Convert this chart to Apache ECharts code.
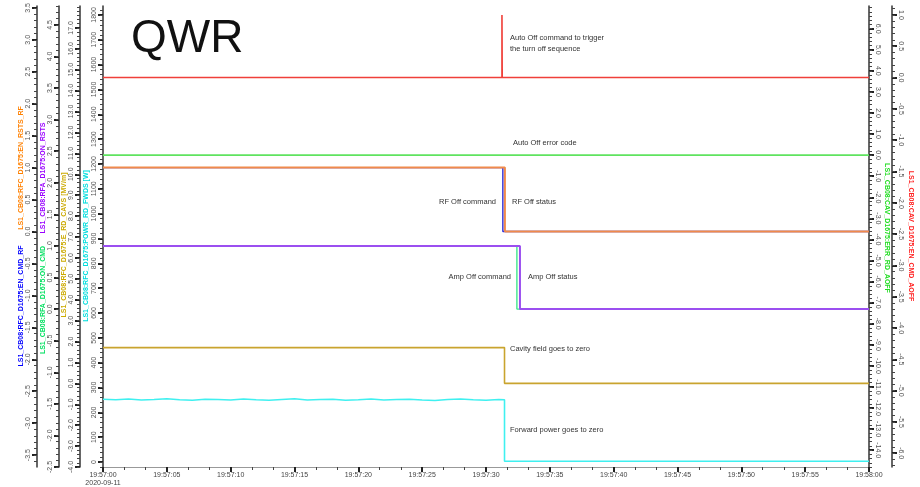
<!DOCTYPE html>
<html style="height: 100%">
<head>
<meta charset="utf-8">
<script type="text/javascript" src="https://cdn.jsdelivr.net/npm/echarts@6/dist/echarts.min.js"></script>
</head>
<body style="height: 100%; margin: 0; background: #fff">
<div id="container" style="width: 920px; height: 487px"></div>
<script type="text/javascript">
// x values are seconds after 19:57:00 on 2020-09-11
var startDate = '2020-09-11';
var startClock = [19, 57, 0];

// [seconds, value]
var autoOffCmd   = [[0, 0], [31.25, 0], [31.25, 1], [31.27, 0], [60, 0]];
var autoOffErr   = [[0, 0], [60, 0]];
var rfOffCmd     = [[0, 1], [31.32, 1], [31.32, 0], [60, 0]];
var rfOffStatus  = [[0, 1], [31.48, 1], [31.48, 0], [60, 0]];
var ampOffCmd    = [[0, 1], [32.42, 1], [32.42, 0], [60, 0]];
var ampOffStatus = [[0, 1], [32.66, 1], [32.66, 0], [60, 0]];
var cavField     = [[0, 1.71], [31.45, 1.71], [31.45, 0], [60, 0]];

// forward power, one reading per second until the drop
var fwdPowerTime = [0, 1, 2, 3, 4, 5, 6, 7, 8, 9, 10, 11, 12, 13, 14, 15,
                    16, 17, 18, 19, 20, 21, 22, 23, 24, 25, 26, 27, 28, 29, 30, 31, 31.45, 31.45, 60];
var fwdPowerVal  = [253, 251, 254, 250, 252, 255, 251, 249, 253, 252, 250, 254, 251, 249, 252, 255,
                    250, 252, 253, 249, 251, 254, 250, 252, 253, 250, 248, 252, 254, 251, 249, 252, 251, 3, 3];

// tick labels of the value axes
var ticksA = [-3.5, -3, -2.5, -2, -1.5, -1, -0.5, 0, 0.5, 1, 1.5, 2, 2.5, 3, 3.5];
var ticksB = [-2.5, -2, -1.5, -1, -0.5, 0, 0.5, 1, 1.5, 2, 2.5, 3, 3.5, 4, 4.5];
var ticksC = [-4, -3, -2, -1, 0, 1, 2, 3, 4, 5, 6, 7, 8, 9, 10, 11, 12, 13, 14, 15, 16, 17];
var ticksD = [0, 100, 200, 300, 400, 500, 600, 700, 800, 900, 1000, 1100, 1200, 1300, 1400, 1500, 1600, 1700, 1800];
var ticksE = [-14, -13, -12, -11, -10, -9, -8, -7, -6, -5, -4, -3, -2, -1, 0, 1, 2, 3, 4, 5, 6];
var ticksF = [-6, -5.5, -5, -4.5, -4, -3.5, -3, -2.5, -2, -1.5, -1, -0.5, 0, 0.5, 1];

var dom = document.getElementById('container');
var myChart = echarts.init(dom);

function range(lo, hi, step) {
    var out = [];
    var first = Math.ceil(lo / step - 1e-9);
    var last = Math.floor(hi / step + 1e-9);
    for (var i = first; i <= last; i++) out.push(+(i * step).toFixed(6));
    return out;
}

function pad(n) { return (n < 10 ? '0' : '') + n; }
function clock(sec) {
    var t = startClock[0] * 3600 + startClock[1] * 60 + startClock[2] + Math.round(sec);
    return pad(Math.floor(t / 3600)) + ':' + pad(Math.floor(t / 60) % 60) + ':' + pad(t % 60);
}

var axisColor = '#333';
var labelFont = 'Liberation Sans';

function makeAxes(pos, offset, min, max, ticks, minorStep, digits) {
    var major = {
        type: 'value', position: pos, offset: offset, min: min, max: max,
        splitLine: {show: false},
        axisLine: {show: true, onZero: false, lineStyle: {color: axisColor, width: 1.5}},
        axisTick: {show: true, customValues: ticks, length: 5, lineStyle: {color: '#222', width: 2}},
        axisLabel: {
            show: true, customValues: ticks, rotate: pos === 'left' ? 90 : -90, margin: 5,
            fontSize: 7, color: '#555', fontFamily: labelFont,
            formatter: function (v) { return Number(v).toFixed(digits); }
        }
    };
    var minor = {
        type: 'value', position: pos, offset: offset, min: min, max: max,
        splitLine: {show: false},
        axisLine: {show: false, onZero: false},
        axisTick: {show: true, customValues: range(min, max, minorStep), length: 3, lineStyle: {color: '#444', width: 1}},
        axisLabel: {show: false}
    };
    return [major, minor];
}

var yAxes = [].concat(
    makeAxes('left', 66, -3.686, 3.53, ticksA, 0.1, 1),      // 0,1  RF command / status
    makeAxes('left', 44, -2.5, 4.8, ticksB, 0.1, 1),         // 2,3  amp command / status
    makeAxes('left', 23, -4.0, 18.05, ticksC, 0.2, 1),       // 4,5  cavity field
    makeAxes('left', 0, -20, 1836, ticksD, 20, 0),           // 6,7  forward power
    makeAxes('right', 0, -14.8, 7.08, ticksE, 0.2, 1),       // 8,9  auto off error
    makeAxes('right', 23, -6.22, 1.143, ticksF, 0.1, 1)      // 10,11 auto off command
);

function line(name, data, axis, color, width) {
    return {
        name: name, type: 'line', data: data, yAxisIndex: axis,
        symbol: 'none', showSymbol: false, animation: false,
        lineStyle: {color: color, width: width || 1.6}
    };
}

var fwdPower = fwdPowerTime.map(function (t, i) { return [t, fwdPowerVal[i]]; });

function axisName(text, x, y, color, left) {
    return {
        type: 'text', x: x, y: y, rotation: left ? Math.PI / 2 : -Math.PI / 2,
        style: {text: text, fill: color, font: 'bold 7px "Liberation Sans"', textAlign: 'center', textVerticalAlign: 'middle'}
    };
}
function note(text, x, y, align) {
    return {
        type: 'text', x: x, y: y,
        style: {text: text, fill: '#333', font: '7.5px "Liberation Sans"', textAlign: align || 'left', textVerticalAlign: 'middle'}
    };
}

option = {
    backgroundColor: '#fff',
    animation: false,
    grid: {left: 103, right: 51, top: 3, bottom: 20, containLabel: false},
    xAxis: {
        type: 'value', min: 0, max: 60, interval: 5,
        splitLine: {show: false},
        axisLine: {onZero: false, lineStyle: {color: '#999', width: 1}},
        axisTick: {length: 5, lineStyle: {color: '#222', width: 2}},
        minorTick: {show: true, splitNumber: 3, length: 3, lineStyle: {color: '#444', width: 1}},
        axisLabel: {
            fontSize: 7, color: '#444', fontFamily: labelFont, margin: 4, lineHeight: 8,
            formatter: function (v) { return v === 0 ? clock(v) + '\n' + startDate : clock(v); }
        }
    },
    yAxis: yAxes,
    series: [
        line('LS1_CB08:RFC_D1675:POWR_RD_FWDS [W]', fwdPower, 6, '#3ff0f0'),
        line('LS1_CB08:RFC_D1675:E_RD_CAVS [MV/m]', cavField, 4, '#c9a42e'),
        line('LS1_CB08:RFA_D1675:ON_CMD', ampOffCmd, 2, '#3de68c', 1.4),
        line('LS1_CB08:RFA_D1675:ON_RSTS', ampOffStatus, 2, '#9b4ff0', 2),
        line('LS1_CB08:RFC_D1675:EN_CMD_RF', rfOffCmd, 0, '#2b2bd9', 1.4),
        line('LS1_CB08:RFC_D1675:EN_RSTS_RF', rfOffStatus, 0, '#f08a4b', 2),
        line('LS1_CB08:CAV_D1675:ERR_RD_AOFF', autoOffErr, 8, '#5fe35f'),
        line('LS1_CB08:CAV_D1675:EN_CMD_AOFF', autoOffCmd, 10, '#f0403a')
    ],
    graphic: [
        {type: 'text', x: 131, y: 39, style: {text: 'QWR', fill: '#111', font: '46px "Liberation Sans"', textAlign: 'left', textVerticalAlign: 'middle'}},
        axisName('LS1_CB08:RFC_D1675:EN_RSTS_RF', 21, 168, '#ff8000', true),
        axisName('LS1_CB08:RFC_D1675:EN_CMD_RF', 21, 306, '#0000ff', true),
        axisName('LS1_CB08:RFA_D1675:ON_RSTS', 43, 178, '#9900ff', true),
        axisName('LS1_CB08:RFA_D1675:ON_CMD', 43, 300, '#00e060', true),
        axisName('LS1_CB08:RFC_D1675:E_RD_CAVS [MV/m]', 64, 245, '#ccaa00', true),
        axisName('LS1_CB08:RFC_D1675:POWR_RD_FWDS [W]', 86, 246, '#00dddd', true),
        axisName('LS1_CB08:CAV_D1675:ERR_RD_AOFF', 887, 228, '#22dd22', false),
        axisName('LS1_CB08:CAV_D1675:EN_CMD_AOFF', 911, 236, '#ff2222', false),
        note('Auto Off command to trigger', 510, 38),
        note('the turn off sequence', 510, 49),
        note('Auto Off error code', 513, 143),
        note('RF Off command', 496, 202, 'right'),
        note('RF Off status', 512, 202),
        note('Amp Off command', 511, 277, 'right'),
        note('Amp Off status', 528, 277),
        note('Cavity field goes to zero', 510, 349),
        note('Forward power goes to zero', 510, 430)
    ]
};

if (option && typeof option === 'object') {
    myChart.setOption(option, true);
}
</script>
</body>
</html>
